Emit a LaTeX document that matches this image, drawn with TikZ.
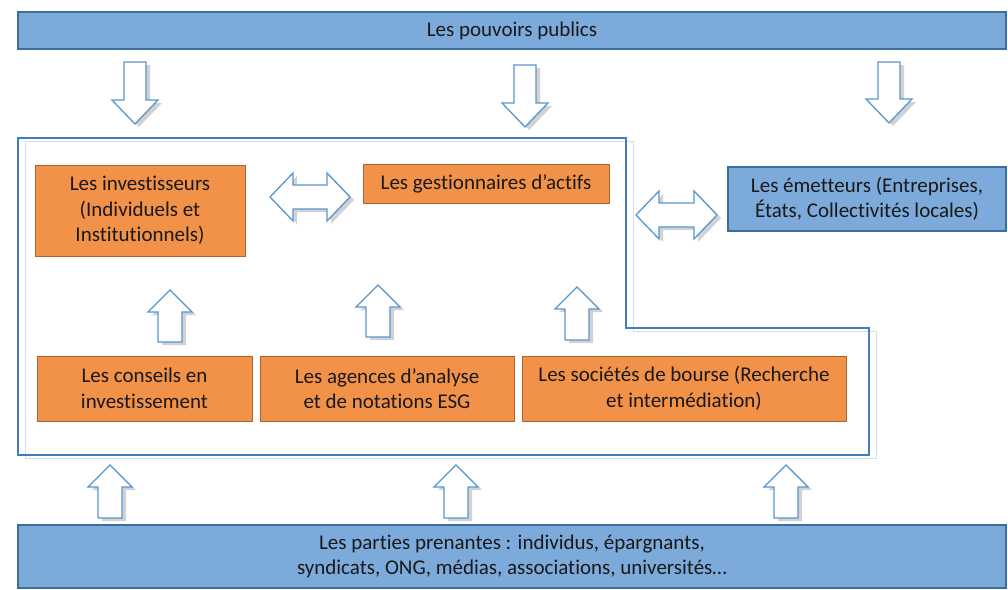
\documentclass[tikz,border=0pt]{standalone}
\usepackage{fontspec}
\setmainfont{Carlito}[Ligatures=NoCommon]
\definecolor{bfill}{RGB}{124,171,219}
\definecolor{bdraw}{RGB}{60,110,155}
\definecolor{ofill}{RGB}{242,145,72}
\definecolor{odraw}{RGB}{175,100,45}
\definecolor{aline}{RGB}{88,150,208}
\definecolor{oline}{RGB}{66,126,188}
\definecolor{txt}{RGB}{25,25,25}
\tikzset{
  bbox/.style={draw=bdraw, fill=bfill, line width=1.8pt, text=txt, align=center, inner sep=0pt},
  obox/.style={draw=odraw, fill=ofill, line width=1pt, text=txt, align=center, inner sep=0pt},
  arrowbox/.style={draw=aline, fill=white, line width=1.3pt, line join=miter},
  shadowc/.style={fill=black!35, opacity=0.5},
  lbl/.style={font=\fontsize{21}{25.5}\selectfont}
}
\newcommand\myup[3]{% cx, ytip, length
  \begin{scope}[shift={(#1,#2)}]
    \fill[shadowc, shift={(4,3)}] (0,0) -- (22,22) -- (12,22) -- (12,#3) -- (-12,#3) -- (-12,22) -- (-22,22) -- cycle;
    \draw[arrowbox] (0,0) -- (22,22) -- (12,22) -- (12,#3) -- (-12,#3) -- (-12,22) -- (-22,22) -- cycle;
  \end{scope}}
\newcommand\mydown[3]{% cx, ytop, length
  \begin{scope}[shift={(#1,#2)}]
    \fill[shadowc, shift={(4,3)}] (-11,0) -- (11,0) -- (11,{#3-24}) -- (23,{#3-24}) -- (0,#3) -- (-23,{#3-24}) -- (-11,{#3-24}) -- cycle;
    \draw[arrowbox] (-11,0) -- (11,0) -- (11,{#3-24}) -- (23,{#3-24}) -- (0,#3) -- (-23,{#3-24}) -- (-11,{#3-24}) -- cycle;
  \end{scope}}
\newcommand\mydbl[3]{% x1, x2, cy
  \begin{scope}[shift={(0,#3)}]
    \fill[shadowc, shift={(4,3)}] (#1,0) -- ({#1+23},-24) -- ({#1+23},-12) -- ({#2-23},-12) -- ({#2-23},-24) -- (#2,0) -- ({#2-23},24) -- ({#2-23},12) -- ({#1+23},12) -- ({#1+23},24) -- cycle;
    \draw[arrowbox] (#1,0) -- ({#1+23},-24) -- ({#1+23},-12) -- ({#2-23},-12) -- ({#2-23},-24) -- (#2,0) -- ({#2-23},24) -- ({#2-23},12) -- ({#1+23},12) -- ({#1+23},24) -- cycle;
  \end{scope}}
\begin{document}
\begin{tikzpicture}[x=1pt, y=-1pt]
\useasboundingbox (0,0) rectangle (1008,589);
\fill[white] (0,0) rectangle (1008,589);

% big outline (with faint offset line)
\draw[oline!25, line width=1pt] (25,141) -- (633,141) -- (633,331) -- (876,331) -- (876,458) -- (25,458) -- cycle;
\draw[oline, line width=2pt, line join=miter] (18,138) -- (626,138) -- (626,328) -- (869,328) -- (869,455) -- (18,455) -- cycle;

% boxes
\node[bbox, lbl, minimum width=988pt, minimum height=37pt] (pub) at (512,30.5) {Les pouvoirs publics};
\node[obox, lbl, minimum width=210pt, minimum height=91pt] (inv) at (140,210.5) {Les investisseurs\\(Individuels et\\Institutionnels)};
\node[obox, lbl, minimum width=246pt, minimum height=39pt] (gest) at (486,183.5) {Les gestionnaires d’actifs};
\node[bbox, lbl, minimum width=278pt, minimum height=64pt] (em) at (867,199) {Les émetteurs (Entreprises,\\États, Collectivités locales)};
\node[obox, lbl, minimum width=215pt, minimum height=65pt] (cons) at (144.5,388.5) {Les conseils en\\investissement};
\node[obox, lbl, minimum width=254pt, minimum height=65pt] (agen) at (387,388.5) {Les agences d’analyse\\et de notations ESG};
\node[obox, lbl, minimum width=324pt, minimum height=65pt] (soc) at (684,388.5) {Les sociétés de bourse (Recherche\\et intermédiation)};
\node[bbox, lbl, minimum width=988pt, minimum height=63pt] (pp) at (512,556.5) {Les parties prenantes : individus, épargnants,\\syndicats, ONG, médias, associations, universités…};

% down arrows from pouvoirs publics
\mydown{135}{62}{62}
\mydown{525}{65}{62}
\mydown{889}{62}{61}

% double arrows
\mydbl{270}{350}{197}
\mydbl{636}{717}{215}

% inner up arrows
\myup{170}{290}{52}
\myup{378}{285}{52}
\myup{577}{287}{53}

% bottom up arrows
\myup{110}{465}{53}
\myup{456}{465}{53}
\myup{786}{465}{53}
\end{tikzpicture}
\end{document}
